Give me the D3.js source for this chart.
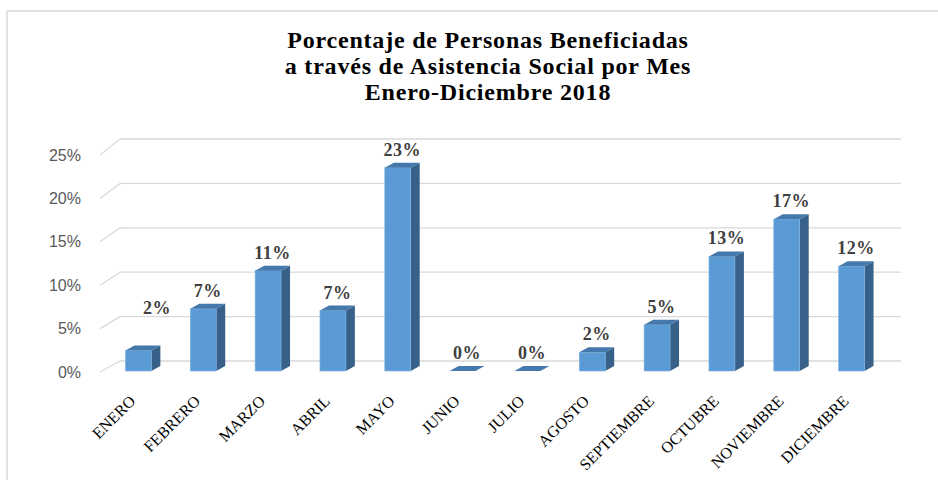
<!DOCTYPE html>
<html>
<head>
<meta charset="utf-8">
<script src="https://cdn.jsdelivr.net/npm/d3@7"></script>
<style>
  body { margin: 0; background: #fff; }
  svg { display: block; }
</style>
</head>
<body>
<div id="chart"></div>
<script>
// Data
const months = ['ENERO', 'FEBRERO', 'MARZO', 'ABRIL', 'MAYO', 'JUNIO', 'JULIO',
    'AGOSTO', 'SEPTIEMBRE', 'OCTUBRE', 'NOVIEMBRE', 'DICIEMBRE'];
const percentages = [2.3, 7.0, 11.3, 6.8, 22.9, 0, 0, 2.1, 5.2, 12.9, 17.1, 11.8];
const dataLabels = ['2%', '7%', '11%', '7%', '23%', '0%', '0%', '2%', '5%', '13%', '17%', '12%'];
const yTicks = [0, 5, 10, 15, 20, 25];
const titleLines = ['Porcentaje de Personas Beneficiadas',
    'a través de Asistencia Social por Mes',
    'Enero-Diciembre 2018'];

const width = 938, height = 480;

const svg = d3.select('#chart')
    .append('svg')
    .attr('width', width)
    .attr('height', height);

// chart frame (right and bottom edges fall outside the picture)
svg.append('rect')
    .attr('x', 7).attr('y', 11)
    .attr('width', 960).attr('height', 500)
    .attr('fill', '#fff')
    .attr('stroke', '#d9d9d9')
    .attr('stroke-width', 1.5);

// scales: back wall, front edge of floor, and bar front faces
const yBack = d3.scaleLinear().domain([0, 25]).range([361, 139]);
const yFront = d3.scaleLinear().domain([0, 25]).range([372, 155]);
const yBar = d3.scaleLinear().domain([0, 25]).range([371, 149]);
const x = d3.scaleBand().domain(months).range([106, 884]).paddingInner(0.6).paddingOuter(0.3);

const wall = { x0: 100, x1: 120, x2: 901 };
const depth = { dx: 9, dy: -5 };

// gridlines: back wall + side wall diagonals
const grid = svg.append('g');
yTicks.forEach(t => {
    grid.append('line')
        .attr('x1', wall.x1).attr('x2', wall.x2)
        .attr('y1', yBack(t)).attr('y2', yBack(t))
        .attr('stroke', '#d9d9d9').attr('stroke-width', 1.3);
    grid.append('line')
        .attr('x1', wall.x0).attr('x2', wall.x1)
        .attr('y1', yFront(t)).attr('y2', yBack(t))
        .attr('stroke', '#d9d9d9').attr('stroke-width', 1.3);
});

// y tick labels
svg.append('g').selectAll('text')
    .data(yTicks)
    .join('text')
    .attr('x', 81)
    .attr('y', d => yFront(d))
    .attr('dy', '0.35em')
    .attr('text-anchor', 'end')
    .style('font-family', '"Liberation Sans", Arial, sans-serif')
    .style('font-size', '16px')
    .style('fill', '#595959')
    .text(d => d + '%');

// 3D bars
const bars = svg.append('g').selectAll('g')
    .data(months.map((m, i) => ({ month: m, value: percentages[i], label: dataLabels[i] })))
    .join('g');

bars.each(function (d) {
    const g = d3.select(this);
    const x0 = x(d.month), w = x.bandwidth();
    const yt = yBar(d.value), yb = yBar(0);
    const { dx, dy } = depth;
    if (d.value > 0) {
        // side face
        g.append('path')
            .attr('d', `M${x0 + w},${yt} L${x0 + w + dx},${yt + dy} L${x0 + w + dx},${yb + dy} L${x0 + w},${yb} Z`)
            .attr('fill', '#386189');
        // front face
        g.append('rect')
            .attr('x', x0).attr('y', yt)
            .attr('width', w).attr('height', yb - yt)
            .attr('fill', '#5b9bd5')
            .attr('stroke', '#7fb2e0').attr('stroke-width', 0.6);
    }
    // top face
    g.append('path')
        .attr('d', `M${x0},${yt} L${x0 + dx},${yt + dy} L${x0 + w + dx},${yt + dy} L${x0 + w},${yt} Z`)
        .attr('fill', '#4579ad');
});

// data labels (ENERO's label was moved by hand in the original)
const labelNudge = { ENERO: [14, -25] };
bars.append('text')
    .attr('x', d => x(d.month) + x.bandwidth() / 2 + depth.dx / 2 + (labelNudge[d.month] || [0, 0])[0])
    .attr('y', d => yBar(d.value) + depth.dy - 7 + (labelNudge[d.month] || [0, 0])[1])
    .attr('text-anchor', 'middle')
    .style('font-family', '"Liberation Serif", "Times New Roman", serif')
    .style('font-weight', 'bold')
    .style('font-size', '18px')
    .style('letter-spacing', '0.5px')
    .style('fill', '#404040')
    .text(d => d.label);

// x labels, rotated
svg.append('g').selectAll('text')
    .data(months)
    .join('text')
    .attr('transform', d => `translate(${x(d) + x.bandwidth() / 2 - 2},${402}) rotate(-45)`)
    .attr('text-anchor', 'end')
    .style('font-family', '"Liberation Serif", "Times New Roman", serif')
    .style('font-size', '16px')
    .style('fill', '#000')
    .text(d => d);

// title
svg.append('g').selectAll('text')
    .data(titleLines)
    .join('text')
    .attr('x', 488)
    .attr('y', (d, i) => 48 + i * 26)
    .attr('text-anchor', 'middle')
    .style('font-family', '"Liberation Serif", "Times New Roman", serif')
    .style('font-weight', 'bold')
    .style('font-size', '24px')
    .style('letter-spacing', '0.8px')
    .style('fill', '#000')
    .text(d => d);
</script>
</body>
</html>
